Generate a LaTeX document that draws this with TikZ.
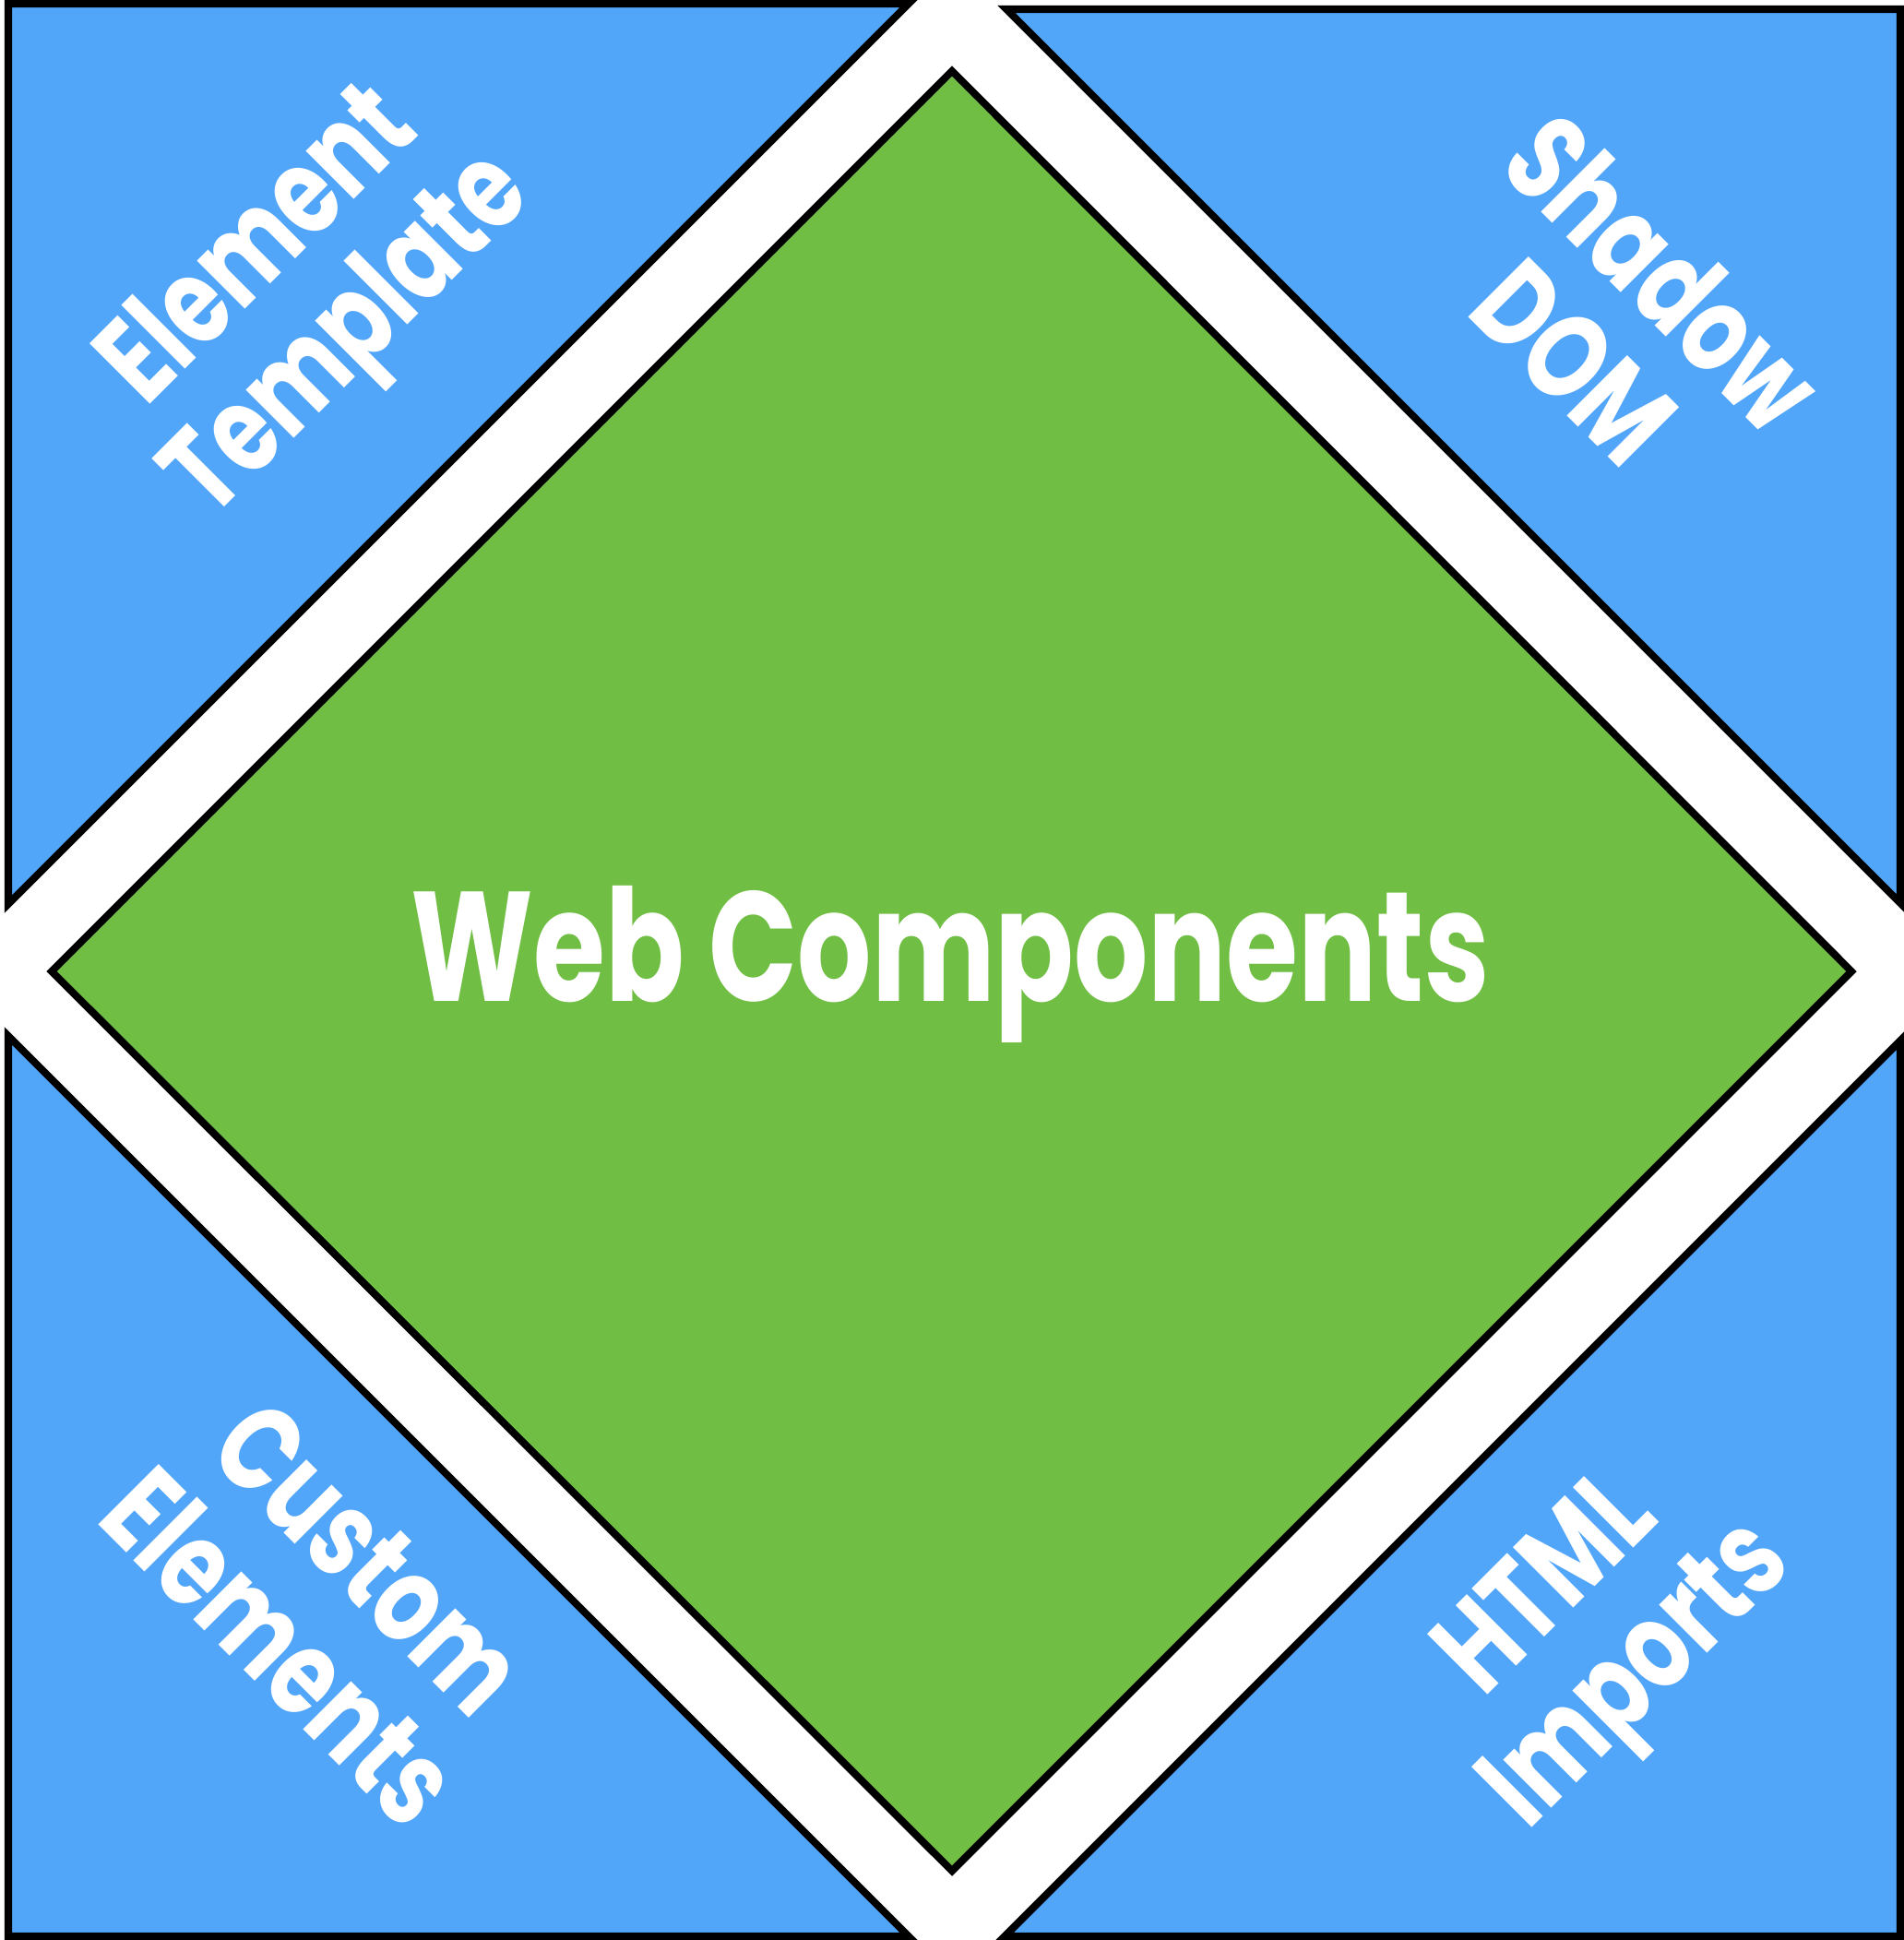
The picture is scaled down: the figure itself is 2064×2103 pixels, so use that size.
\documentclass[tikz,border=0pt]{standalone}
\usepackage{fontspec}
\setmainfont{Poppins}
\definecolor{tileblue}{RGB}{82,166,250}
\definecolor{coregreen}{RGB}{112,190,68}
\newcommand{\twolines}[2]{\scalebox{0.95}[1.25]{\begin{tabular}{@{}c@{}}#1\\[-2pt]#2\end{tabular}}}
\begin{document}
\begin{tikzpicture}[x=0.01cm,y=-0.01cm,
  tile/.style={fill=tileblue,draw=black,line width=2.3pt,line join=miter},
  core/.style={fill=coregreen,draw=black,line width=2.3pt,line join=miter},
  corner/.style={text=white,font=\fontsize{30}{33}\selectfont\bfseries,inner sep=0pt},
  title/.style={text=white,font=\fontsize{37}{44}\selectfont\bfseries,inner sep=0pt}]
\useasboundingbox (0,0) rectangle (2064,2103);
\fill[white] (0,0) rectangle (2064,2103);
% corner tiles
\draw[tile] (9,4) -- (985,4) -- (9,980) -- cycle;
\draw[tile] (1091,10) -- (2060,10) -- (2060,979) -- cycle;
\draw[tile] (9,1123) -- (985,2099) -- (9,2099) -- cycle;
\draw[tile] (1089,2099) -- (2060,2099) -- (2060,1128) -- cycle;
% central diamond
\draw[core] (1032,77) -- (2007,1053) -- (1032,2028) -- (56,1053) -- cycle;
% labels
\node[title] (wc) at (1030,1045) {\scalebox{0.97}[1.3]{Web Components}};
\node[corner,rotate=45] (et) at (335,321) {\twolines{Element}{Template}};
\node[corner,rotate=-45] (sd) at (1742,357) {\twolines{Shadow}{DOM}};
\node[corner,rotate=-45] (ce) at (340,1749) {\twolines{Custom}{Elements}};
\node[corner,rotate=45] (hi) at (1732,1773) {\twolines{HTML}{Imports}};
\end{tikzpicture}
\end{document}
